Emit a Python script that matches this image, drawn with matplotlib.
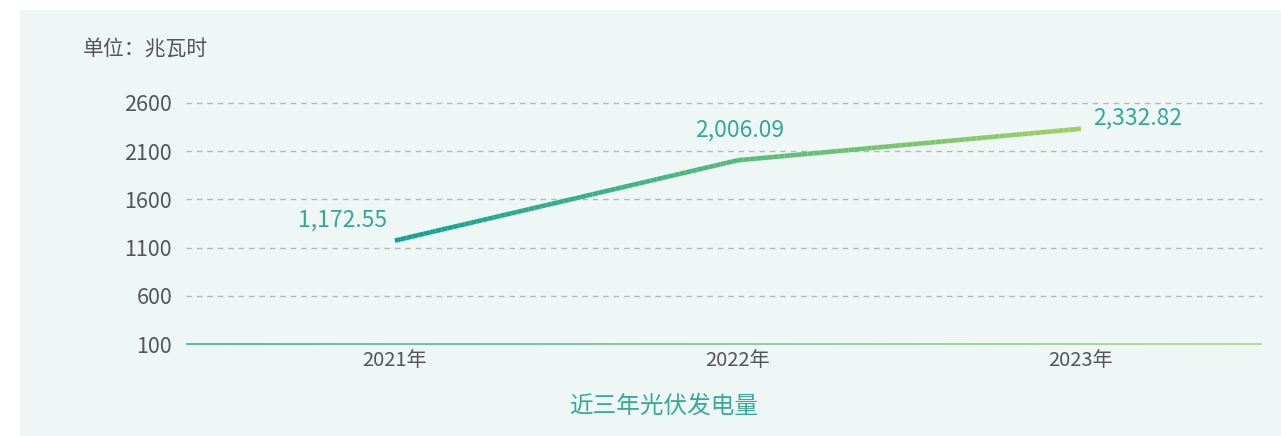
import numpy as np
import matplotlib.pyplot as plt
from matplotlib.collections import LineCollection
from matplotlib.colors import LinearSegmentedColormap
from matplotlib.patches import Rectangle

plt.rcParams['font.family'] = ['Noto Sans CJK SC', 'DejaVu Sans']

# data
years = ["2021年", "2022年", "2023年"]
values = [1172.55, 2006.09, 2332.82]
value_labels = ["1,172.55", "2,006.09", "2,332.82"]
y_ticks = [100, 600, 1100, 1600, 2100, 2600]

W, H = 1281, 436
fig = plt.figure(figsize=(W / 100, H / 100), dpi=100)
fig.patch.set_facecolor("white")
fig.patches.append(Rectangle((20 / W, 0), 1 - 20 / W, 1 - 10 / H,
                             transform=fig.transFigure, facecolor="#eef7f5",
                             edgecolor="none", zorder=-5))

ax = fig.add_axes([186 / W, 92 / H, (1262 - 186) / W, (344 - 103) / H])
ax.set_facecolor("none")
ax.set_zorder(2)

x = np.arange(len(years))
ax.set_xlim(-0.609, 2.528)
ax.set_ylim(100, 2600)

# dashed grid
for t in y_ticks[1:]:
    ax.axhline(t, color="#b8b8b8", lw=1, ls=(0, (4, 3.5)), zorder=1, clip_on=False)

cmap = LinearSegmentedColormap.from_list("g", ["#11a394", "#9dd062"])

# gradient main line (subdivided only for colour blending)
xs_list, ys_list = [], []
for i in range(len(x) - 1):
    t = np.linspace(0, 1, 60)
    xs_list.append(x[i] + (x[i + 1] - x[i]) * t)
    ys_list.append(values[i] + (values[i + 1] - values[i]) * t)
xs = np.concatenate(xs_list)
ys = np.concatenate(ys_list)
pts = np.column_stack([xs, ys]).reshape(-1, 1, 2)
segs = np.concatenate([pts[:-1], pts[1:]], axis=1)
lc = LineCollection(segs, cmap=cmap, linewidth=3.3, capstyle="butt", zorder=3)
lc.set_array((xs[:-1] - x[0]) / (x[-1] - x[0]))
ax.add_collection(lc)

# gradient baseline
bx = np.linspace(-0.609, 2.528, 200)
bpts = np.column_stack([bx, np.full_like(bx, 100)]).reshape(-1, 1, 2)
bsegs = np.concatenate([bpts[:-1], bpts[1:]], axis=1)
blc = LineCollection(bsegs, cmap=LinearSegmentedColormap.from_list("b", ["#49b5a8", "#b3dc8a"]),
                     linewidth=1.3, zorder=2, clip_on=False)
blc.set_array(np.linspace(0, 1, len(bsegs)))
ax.add_collection(blc)

# value labels
lab_color = "#35a895"
ax.annotate(value_labels[0], (x[0], values[0]), xytext=(-52, 20), textcoords="offset pixels",
            ha="center", va="center", fontsize=16.5, color=lab_color)
ax.annotate(value_labels[1], (x[1], values[1]), xytext=(2, 30), textcoords="offset pixels",
            ha="center", va="center", fontsize=16.5, color=lab_color)
ax.annotate(value_labels[2], (x[2], values[2]), xytext=(12, 11), textcoords="offset pixels",
            ha="left", va="center", fontsize=16.5, color=lab_color)

ax.set_xticks(x)
ax.set_xticklabels(years)
ax.set_yticks(y_ticks)
ax.tick_params(axis="both", length=0, labelsize=14.5, colors="#555555")
ax.tick_params(axis="y", pad=10, labelsize=15.5)
ax.tick_params(axis="x", pad=4)
for s in ax.spines.values():
    s.set_visible(False)

fig.text(83 / W, 1 - 50 / H, "单位：兆瓦时", fontsize=15, color="#555555", va="center", ha="left")
fig.text(664 / W, 1 - 406 / H, "近三年光伏发电量", fontsize=17, color="#3aaa98", va="center", ha="center")

fig.savefig("out.png", dpi=100, facecolor=fig.get_facecolor())
